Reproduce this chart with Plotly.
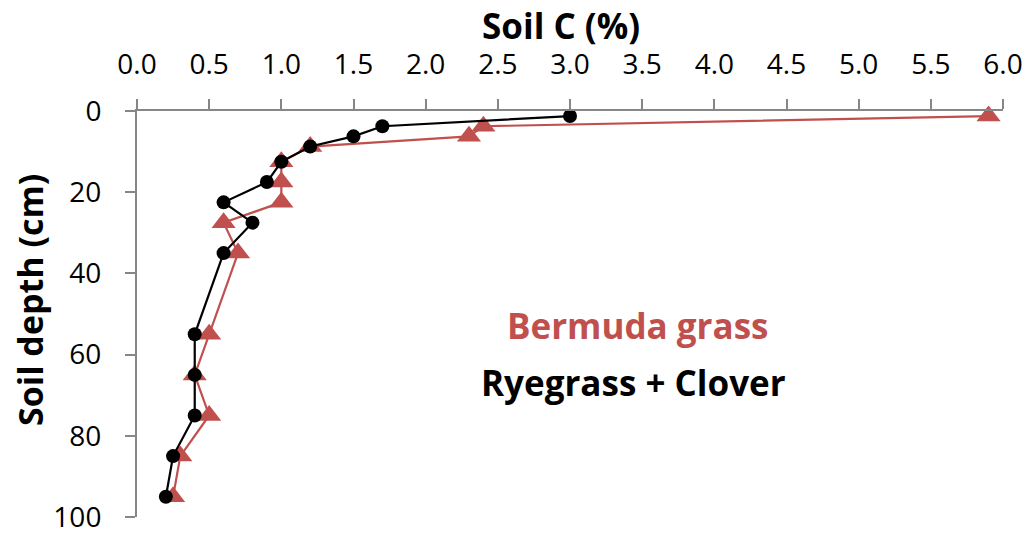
import plotly.graph_objects as go

depth = [1.25, 3.75, 6.25, 8.75, 12.5, 17.5, 22.5, 27.5, 35, 55, 65, 75, 85, 95]
ryegrass_clover = [3.0, 1.7, 1.5, 1.2, 1.0, 0.9, 0.6, 0.8, 0.6, 0.4, 0.4, 0.4, 0.25, 0.2]
bermuda = [5.9, 2.4, 2.3, 1.2, 1.0, 1.0, 1.0, 0.6, 0.7, 0.5, 0.4, 0.5, 0.3, 0.25]
x_ticks = [0.0, 0.5, 1.0, 1.5, 2.0, 2.5, 3.0, 3.5, 4.0, 4.5, 5.0, 5.5, 6.0]
y_ticks = [0, 20, 40, 60, 80, 100]

RED = "#C0504D"
FONT = "Open Sans"
AXC = "#868686"

W, H = 1022, 528          # page body has an 8px margin
ML, MR, MT, MB = 129, 27, 103, 19

fig = go.Figure()
fig.add_trace(go.Scatter(
    x=bermuda, y=depth, mode="lines+markers", name="Bermuda grass",
    line=dict(color=RED, width=2.2),
    marker=dict(symbol="triangle-up", size=21, color=RED),
    cliponaxis=False,
))
fig.add_trace(go.Scatter(
    x=ryegrass_clover, y=depth, mode="lines+markers", name="Ryegrass + Clover",
    line=dict(color="black", width=2.2),
    marker=dict(symbol="circle", size=14, color="black"),
    cliponaxis=False,
))

fig.update_layout(
    width=W, height=H,
    margin=dict(l=ML, r=MR, t=MT, b=MB),
    paper_bgcolor="white", plot_bgcolor="white",
    showlegend=False,
    font=dict(family=FONT, size=28, color="black"),
    xaxis=dict(
        side="top", range=[0, 6], tickvals=x_ticks,
        ticktext=[f"{v:.1f}" for v in x_ticks],
        showgrid=False, zeroline=False, automargin=False,
        showline=True, linecolor=AXC, linewidth=2,
        ticks="outside", ticklen=10, tickcolor=AXC, tickwidth=2,
        ticklabelstandoff=14,
    ),
    yaxis=dict(
        range=[100, 0], tickvals=y_ticks,
        showgrid=False, zeroline=False, automargin=False,
        showline=True, linecolor=AXC, linewidth=2,
        ticks="outside", ticklen=10, tickcolor=AXC, tickwidth=2,
        ticklabelstandoff=18,
    ),
)

# text centres given in page pixels (page = figure + 8px offset)
pw, ph = W - ML - MR, H - MT - MB
texts = [
    ("<b>Soil C (%)</b>", "black", 561, 26, 35, 0),
    ("<b>Soil depth (cm)</b>", "black", 30, 300, 34, -90),
    ("<b>Bermuda grass</b>", RED, 637, 325, 35, 0),
    ("<b>Ryegrass + Clover</b>", "black", 633, 382, 35, 0),
]
for text, col, px, py, size, ang in texts:
    fig.add_annotation(
        x=(px - 8 - ML) / pw, y=1 - (py - 8 - MT) / ph, xref="paper", yref="paper",
        xanchor="center", yanchor="middle", text=text, showarrow=False,
        textangle=ang, font=dict(size=size, color=col, family=FONT),
    )

fig.write_html("out.html")
